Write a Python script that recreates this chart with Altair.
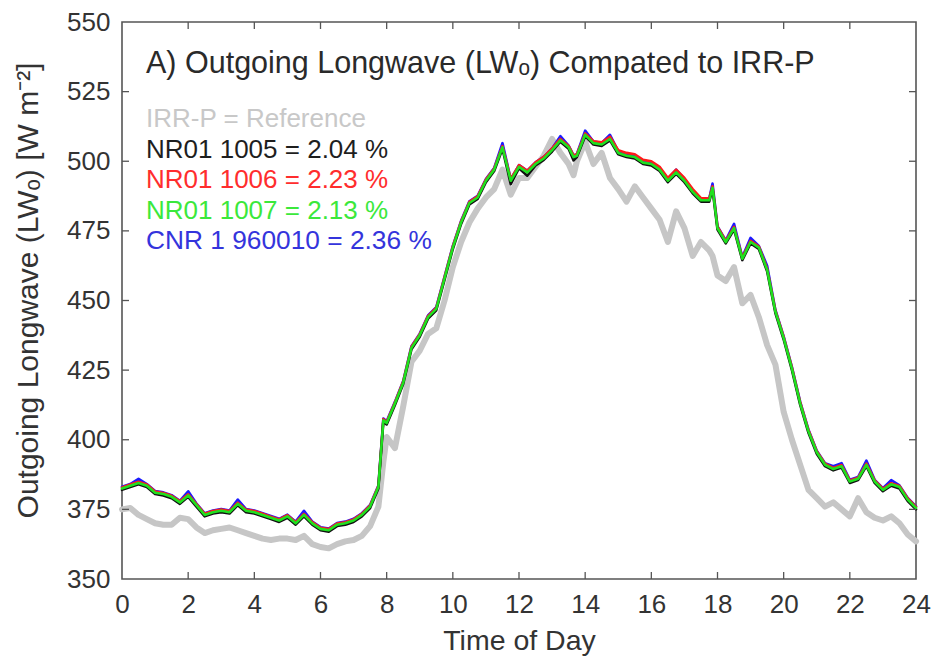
import altair as alt
import pandas as pd

# Time of day (hours)
hours = [
    0.00, 0.25, 0.50, 0.75, 1.00, 1.25, 1.50, 1.75, 2.00, 2.25, 2.50, 2.75,
    3.00, 3.25, 3.50, 3.75, 4.00, 4.25, 4.50, 4.75, 5.00, 5.25, 5.50, 5.75,
    6.00, 6.25, 6.50, 6.75, 7.00, 7.25, 7.50, 7.75, 7.90, 8.00, 8.25, 8.50,
    8.75, 9.00, 9.25, 9.50, 9.75, 10.00, 10.25, 10.50, 10.75, 11.00, 11.25,
    11.50, 11.75, 12.00, 12.25, 12.50, 12.75, 13.00, 13.25, 13.50, 13.65,
    13.75, 14.00, 14.25, 14.50, 14.75, 15.00, 15.25, 15.50, 15.75, 16.00,
    16.25, 16.50, 16.75, 17.00, 17.25, 17.50, 17.75, 17.85, 18.00, 18.25,
    18.50, 18.75, 19.00, 19.25, 19.50, 19.75, 20.00, 20.25, 20.50, 20.75,
    21.00, 21.25, 21.50, 21.75, 22.00, 22.25, 22.50, 22.75, 23.00, 23.25,
    23.50, 23.75, 24.00,
]

# IRR-P reference radiometer (W m-2)
irr_p = [
    375.0, 375.5, 373.0, 371.5, 370.0, 369.5, 369.5, 372.0, 371.5, 368.5, 366.5, 367.5,
    368.0, 368.5, 367.5, 366.5, 365.5, 364.5, 364.0, 364.5, 364.5, 364.0, 365.5, 362.5,
    361.5, 361.0, 362.5, 363.5, 364.0, 365.5, 369.0, 376.0, 392.0, 401.0, 397.0, 412.0,
    428.0, 432.0, 438.0, 440.0, 450.0, 462.0, 471.0, 478.0, 483.0, 487.0, 490.0,
    497.0, 488.0, 494.0, 494.0, 498.0, 502.0, 508.0, 503.0, 499.0, 495.0,
    500.0, 507.0, 499.0, 503.0, 494.0, 490.0, 485.5, 491.0, 487.0, 483.0,
    479.0, 471.0, 482.0, 476.0, 466.0, 471.0, 468.0, 466.0, 459.0, 457.0,
    462.0, 449.0, 452.0, 444.0, 434.0, 427.0, 410.0, 400.0, 391.0, 382.0,
    379.0, 376.0, 377.5, 375.0, 372.5, 379.0, 374.0, 372.0, 371.0, 372.5,
    370.0, 366.0, 363.5,
]

# NR01 1005
nr01_1005 = [
    382.0, 383.0, 384.0, 383.0, 380.5, 380.0, 379.0, 377.0, 379.5, 376.0, 372.5, 373.5,
    374.0, 373.5, 376.5, 374.0, 373.5, 372.5, 371.5, 370.5, 372.0, 369.5, 372.5, 369.5,
    367.5, 367.0, 369.0, 369.5, 370.5, 372.5, 375.5, 382.5, 406.5, 405.5, 412.5, 420.0,
    432.5, 437.0, 443.5, 446.5, 457.5, 468.5, 477.5, 484.5, 486.5, 492.5, 496.5,
    504.5, 491.8, 497.5, 494.8, 498.5, 500.5, 503.5, 507.0, 504.5, 500.3,
    501.5, 509.0, 506.0, 505.5, 507.5, 502.5, 501.5, 501.0, 499.0, 498.5,
    496.5, 492.5, 495.5, 492.5, 488.5, 485.5, 485.5, 490.0, 475.5, 470.5,
    475.5, 464.5, 470.5, 468.5, 460.5, 445.5, 436.0, 425.0, 412.5, 402.5,
    395.0, 390.5, 389.0, 390.0, 384.5, 385.5, 390.5, 384.5, 381.5, 383.5,
    382.5, 378.0, 375.0,
]

# NR01 1006
nr01_1006 = [
    382.9, 383.9, 384.9, 383.9, 381.4, 380.9, 379.9, 377.9, 380.4, 376.9, 373.4, 374.4,
    374.9, 374.4, 377.4, 374.9, 374.4, 373.4, 372.4, 371.4, 372.9, 370.4, 373.4, 370.4,
    368.4, 367.9, 369.9, 370.4, 371.4, 373.4, 376.4, 383.4, 407.4, 406.4, 413.4, 420.9,
    433.4, 437.9, 444.4, 447.4, 458.4, 469.4, 478.4, 485.4, 487.4, 493.4, 497.4,
    505.4, 493.6, 498.6, 496.6, 499.6, 501.6, 504.6, 508.0, 505.5, 502.0,
    502.5, 510.0, 507.2, 506.8, 508.8, 504.0, 503.0, 502.5, 500.5, 500.0,
    498.0, 494.0, 497.0, 494.0, 490.0, 486.8, 486.6, 491.0, 476.5, 471.4,
    476.4, 465.4, 471.4, 469.4, 461.4, 446.4, 436.9, 425.9, 413.4, 403.4,
    395.9, 391.4, 389.9, 390.9, 385.4, 386.4, 391.4, 385.4, 382.4, 384.4,
    383.4, 378.9, 375.9,
]

# NR01 1007
nr01_1007 = [
    382.5, 383.5, 384.5, 383.5, 381.0, 380.5, 379.5, 377.5, 380.0, 376.5, 373.0, 374.0,
    374.5, 374.0, 377.0, 374.5, 374.0, 373.0, 372.0, 371.0, 372.5, 370.0, 373.0, 370.0,
    368.0, 367.5, 369.5, 370.0, 371.0, 373.0, 376.0, 383.0, 407.0, 406.0, 413.0, 420.5,
    433.0, 437.5, 444.0, 447.0, 458.0, 469.0, 478.0, 485.0, 487.0, 493.0, 497.0,
    505.0, 493.0, 498.0, 496.0, 499.0, 501.0, 504.0, 507.5, 505.0, 501.5,
    502.0, 509.5, 506.5, 506.0, 508.0, 503.0, 502.0, 501.5, 499.5, 499.0,
    497.0, 493.0, 496.0, 493.0, 489.0, 486.0, 486.0, 490.5, 476.0, 471.0,
    476.0, 465.0, 471.0, 469.0, 461.0, 446.0, 436.5, 425.5, 413.0, 403.0,
    395.5, 391.0, 389.5, 390.5, 385.0, 386.0, 391.0, 385.0, 382.0, 384.0,
    383.0, 378.5, 375.5,
]

# CNR 1 960010
cnr1_960010 = [
    383.1, 384.1, 386.0, 384.1, 381.6, 381.1, 380.1, 378.1, 381.5, 377.1, 373.6, 374.6,
    375.1, 374.6, 378.5, 375.1, 374.6, 373.6, 372.6, 371.6, 373.1, 370.6, 374.5, 370.6,
    368.6, 368.1, 370.1, 370.6, 371.6, 373.6, 376.6, 383.6, 407.6, 406.6, 413.6, 421.1,
    433.6, 438.1, 444.6, 447.6, 458.6, 469.6, 478.6, 485.6, 487.6, 493.6, 497.6,
    506.5, 493.6, 498.6, 496.6, 499.6, 501.6, 504.6, 509.0, 505.6, 502.1,
    502.6, 511.0, 507.1, 506.6, 509.5, 503.6, 502.6, 502.1, 500.1, 499.6,
    497.6, 493.6, 497.0, 493.6, 489.6, 486.6, 486.6, 492.0, 476.6, 471.6,
    477.5, 465.6, 472.5, 469.6, 462.5, 446.6, 437.1, 426.1, 413.6, 403.6,
    396.1, 391.6, 390.5, 391.6, 385.6, 386.6, 392.5, 385.6, 382.6, 385.5,
    383.6, 379.1, 376.1,
]

x_ticks = [0, 2, 4, 6, 8, 10, 12, 14, 16, 18, 20, 22, 24]
y_ticks = [350, 375, 400, 425, 450, 475, 500, 525, 550]

W, H = 794, 557
FONT = "Liberation Sans"

x_scale = alt.Scale(domain=[0, 24], nice=False, zero=False)
y_scale = alt.Scale(domain=[350, 550], nice=False, zero=False)

x_axis = alt.Axis(values=x_ticks, title="Time of Day", format="d",
                  labelPadding=12, titlePadding=9, labelFlush=False,
                  titleFontSize=28.5)
y_axis = alt.Axis(values=y_ticks, title="Outgoing Longwave (LWₒ) [W m⁻²]",
                  format="d", labelPadding=12, labelFlush=False,
                  titleX=-94, titleY=268, titleBaseline="middle",
                  titleAlign="center", titleAngle=270, titleFontSize=30)


def series_layer(values, color, width):
    df = pd.DataFrame({"hour": hours, "lw": values})
    return alt.Chart(df).mark_line(
        color=color, strokeWidth=width, strokeJoin="round", strokeCap="round"
    ).encode(
        x=alt.X("hour:Q", scale=x_scale, axis=x_axis),
        y=alt.Y("lw:Q", scale=y_scale, axis=y_axis),
    )


lines = [
    series_layer(irr_p, "#c6c6c6", 6),
    series_layer(cnr1_960010, "#1a1aff", 2.6),
    series_layer(nr01_1006, "#ff1a1a", 2.6),
    series_layer(nr01_1005, "#111111", 2.6),
    series_layer(nr01_1007, "#1fe01f", 2.6),
]

# Inward tick marks on all four sides of the frame
xt = pd.DataFrame({"hour": x_ticks[1:-1]})
yt = pd.DataFrame({"lw": y_ticks[1:-1]})
tick_color = "#555555"
xenc = alt.X("hour:Q", scale=x_scale, axis=x_axis)
yenc = alt.Y("lw:Q", scale=y_scale, axis=y_axis)
ticks = [
    alt.Chart(xt).mark_rule(color=tick_color, strokeWidth=1.3).encode(
        x=xenc, y=alt.value(H), y2=alt.value(H - 7)),
    alt.Chart(xt).mark_rule(color=tick_color, strokeWidth=1.3).encode(
        x=xenc, y=alt.value(0), y2=alt.value(7)),
    alt.Chart(yt).mark_rule(color=tick_color, strokeWidth=1.3).encode(
        y=yenc, x=alt.value(0), x2=alt.value(7)),
    alt.Chart(yt).mark_rule(color=tick_color, strokeWidth=1.3).encode(
        y=yenc, x=alt.value(W), x2=alt.value(W - 7)),
]

# Panel title and colour-coded sensor list
labels = [
    ("A) Outgoing Longwave (LWₒ) Compated to IRR-P", "#2a2a2a", 30.5, 51),
    ("IRR-P = Reference", "#c8c8c8", 26, 105),
    ("NR01 1005 = 2.04 %", "#1e1e1e", 26, 135.5),
    ("NR01 1006 = 2.23 %", "#ff2d2d", 26, 166),
    ("NR01 1007 = 2.13 %", "#3be83b", 26, 196.5),
    ("CNR 1 960010 = 2.36 %", "#3434dc", 26.3, 227),
]
texts = []
for txt, col, size, ypos in labels:
    texts.append(
        alt.Chart(pd.DataFrame({"label": [txt]})).mark_text(
            align="left", baseline="alphabetic", font=FONT, fontSize=size, color=col
        ).encode(text="label:N", x=alt.value(24), y=alt.value(ypos))
    )

chart = alt.layer(*lines, *ticks, *texts).properties(
    width=W, height=H,
    autosize=alt.AutoSizeParams(type="none"),
    padding={"left": 122, "top": 22, "right": 19, "bottom": 86},
).configure_view(
    stroke="#555555", strokeWidth=1.6
).configure_axis(
    grid=False, ticks=False, domain=False,
    labelFont=FONT, labelFontSize=26, labelColor="#333333",
    titleFont=FONT, titleFontSize=27, titleColor="#333333", titleFontWeight="normal",
)

chart.save("out.html", embed_options={"renderer": "svg", "actions": False})
